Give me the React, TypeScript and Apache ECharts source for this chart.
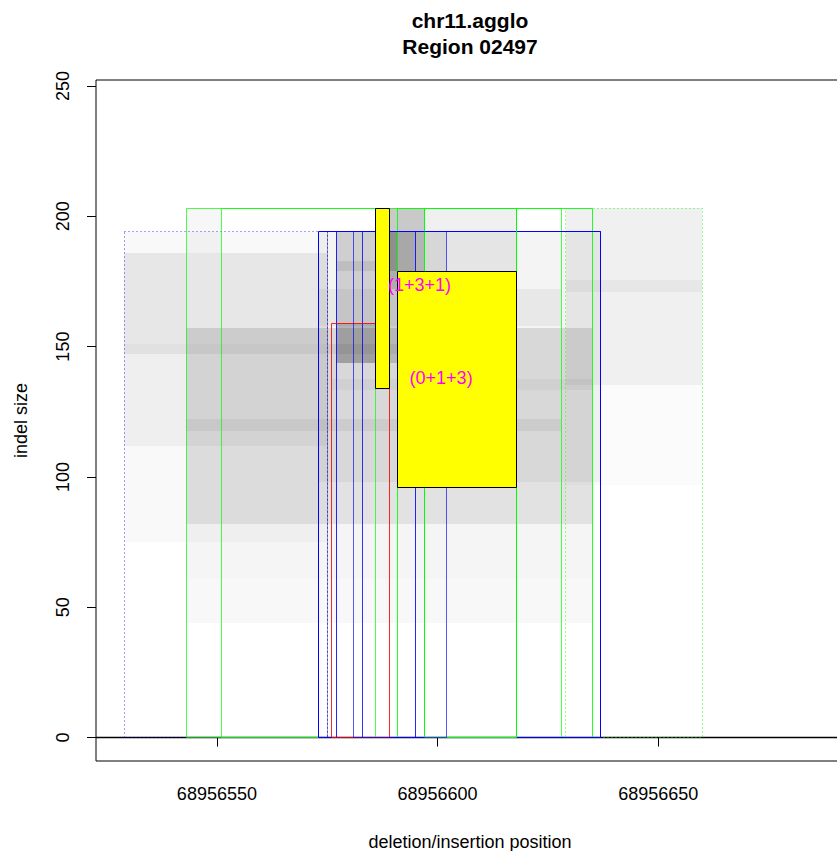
import React, { useEffect, useRef } from "react";
import * as echarts from "echarts";

const X_MIN = 68956522.6;
const X_MAX = 68956692.1;
const Y_MIN = -9.0;
const Y_MAX = 252.3;
const xTicks = [68956550, 68956600, 68956650];
const yTicks = [0, 50, 100, 150, 200, 250];
const titleLines = ["chr11.agglo", "Region 02497"];
const xName = "deletion/insertion position";
const yName = "indel size";

// translucent grey support areas: [x1, x2, y1, y2, darkness]
const shadeRects = [
  [68956529, 68956575, 75, 194, 0.024],
  [68956529, 68956575, 112, 186, 0.04],
  [68956529, 68956575, 151, 186, 0.032],
  [68956529, 68956591, 147, 151, 0.055],
  [68956543, 68956551, 186, 203, 0.032],
  [68956543, 68956635, 44, 82, 0.028],
  [68956543, 68956635, 61, 82, 0.012],
  [68956543, 68956635, 82, 157, 0.115],
  [68956543, 68956628, 117.5, 122.4, 0.05],
  [68956573, 68956637, 98, 194, 0.043],
  [68956573, 68956628, 158, 172, 0.047],
  [68956576, 68956635, 133.3, 137.5, 0.035],
  [68956586, 68956618, 179, 203, 0.06],
  [68956629, 68956660, 135.3, 203, 0.06],
  [68956629, 68956660, 97, 135.3, 0.016],
  [68956629, 68956660, 171, 175.6, 0.035],
  [68956577, 68956591, 143.7, 194, 0.15],
  [68956577, 68956589, 143.7, 159, 0.13],
  [68956589, 68956597, 172, 203, 0.16],
  [68956589, 68956595, 179, 194, 0.12],
  [68956595, 68956602, 179, 194, 0.06],
  [68956577, 68956586, 179, 183, 0.08],
];

// outlined boxes: [x1, x2, y1, y2, opacity], drawn in this order
const outlineBoxes = [
  [68956543, 68956628, 0, 203, 0.7],
  [68956551, 68956586, 0, 203, 0.7],
  [68956591, 68956635, 0, 203, 0.85],
  [68956573, 68956637, 0, 194, 1],
  [68956583, 68956637, 0, 194, 0.8],
  [68956597, 68956618, 0, 203, 1],
  [68956577, 68956595, 0, 194, 0.85],
  [68956576, 68956589, 0, 159, 0.85],
  [68956581, 68956602, 0, 194, 0.65],
];
const outlineColors = [
  "#00ff00",
  "#00ff00",
  "#00ff00",
  "#0000ff",
  "#0000ff",
  "#00ff00",
  "#0000ff",
  "#ff0000",
  "#0000ff",
];
const blueDotted = [[68956529, 68956575, 0, 194, 0.75]];
const navyDotted = [[68956575, 68956575, 0, 194, 0.9]];
const greenDotted = [[68956629, 68956660, 0, 203, 0.8]];
const yellowBoxes = [
  [68956586, 68956589, 134, 203],
  [68956591, 68956618, 96, 179],
];
const labelTexts = ["(1+3+1)", "(0+1+3)"];
const labelX = [68956595.9, 68956600.8];
const labelY = [173.6, 138.1];
const baseLine = [0];

const FONT = "'Liberation Sans', Arial, Helvetica, sans-serif";

const snap = (v: number) => Math.round(v - 0.5) + 0.5;

function boxSeries(data: number[][], color: string | string[], dashed: boolean, fill?: string) {
  return {
    type: "custom",
    silent: true,
    data,
    renderItem: (params: any, api: any) => {
      const p1 = api.coord([api.value(0), api.value(3)]);
      const p2 = api.coord([api.value(1), api.value(2)]);
      const x1 = snap(p1[0]);
      const y1 = snap(p1[1]);
      const x2 = snap(p2[0]);
      const y2 = snap(p2[1]);
      const op = fill ? 1 : api.value(4);
      const stroke = Array.isArray(color) ? color[params.dataIndex] : color;
      return {
        type: "rect",
        shape: { x: x1, y: y1, width: x2 - x1, height: y2 - y1 },
        style: {
          fill: fill || "none",
          stroke,
          lineWidth: 1,
          opacity: op,
          lineDash: dashed ? [1, 3] : null,
        },
      };
    },
  };
}

export default function App() {
  const ref = useRef<HTMLDivElement>(null);
  useEffect(() => {
    if (!ref.current) return;
    const chart = echarts.init(ref.current, null, { renderer: "svg" });
    const shadeSeries = {
      type: "custom",
      silent: true,
      data: shadeRects,
      renderItem: (params: any, api: any) => {
        const p1 = api.coord([api.value(0), api.value(3)]);
        const p2 = api.coord([api.value(1), api.value(2)]);
        const x1 = Math.round(p1[0]);
        const y1 = Math.round(p1[1]);
        const x2 = Math.round(p2[0]);
        const y2 = Math.round(p2[1]);
        return {
          type: "rect",
          shape: { x: x1, y: y1, width: x2 - x1, height: y2 - y1 },
          style: { fill: "#000", opacity: api.value(4) },
        };
      },
    };
    const baseSeries = {
      type: "custom",
      silent: true,
      data: baseLine,
      renderItem: (params: any, api: any) => {
        const a = api.coord([X_MIN, api.value(0)]);
        const b = api.coord([X_MAX, api.value(0)]);
        return {
          type: "line",
          shape: { x1: a[0], y1: snap(a[1]), x2: b[0], y2: snap(b[1]) },
          style: { stroke: "#000", lineWidth: 1.3 },
        };
      },
    };
    const textSeries = {
      type: "custom",
      silent: true,
      data: labelTexts.map((t, i) => [labelX[i], labelY[i]]),
      renderItem: (params: any, api: any) => {
        const p = api.coord([api.value(0), api.value(1)]);
        return {
          type: "text",
          x: p[0],
          y: p[1],
          style: {
            text: labelTexts[params.dataIndex],
            fill: "#ff00ff",
            fontSize: 18,
            fontFamily: FONT,
            textAlign: "center",
            textVerticalAlign: "middle",
          },
        };
      },
    };
    chart.setOption({
      animation: false,
      backgroundColor: "#fff",
      graphic: [
        {
          type: "text",
          x: 470,
          y: 20,
          style: { text: titleLines[0], fontSize: 21, fontWeight: "bold", fontFamily: FONT, fill: "#000", textAlign: "center", textVerticalAlign: "middle" },
        },
        {
          type: "text",
          x: 470,
          y: 46,
          style: { text: titleLines[1], fontSize: 21, fontWeight: "bold", fontFamily: FONT, fill: "#000", textAlign: "center", textVerticalAlign: "middle" },
        },
      ],
      grid: {
        left: 96,
        top: 80,
        width: 748,
        height: 681,
        show: true,
        borderColor: "#000",
        borderWidth: 1,
        backgroundColor: "transparent",
        containLabel: false,
        outerBoundsMode: "none",
      },
      xAxis: {
        type: "value",
        min: X_MIN,
        max: X_MAX,
        axisLine: { show: false },
        splitLine: { show: false },
        axisTick: { show: true, customValues: xTicks, length: 9, lineStyle: { color: "#000" } },
        axisLabel: {
          customValues: xTicks,
          margin: 24,
          fontSize: 18,
          fontFamily: FONT,
          color: "#000",
          formatter: (v: number) => String(v),
        },
        name: xName,
        nameLocation: "middle",
        nameGap: 72,
        nameTextStyle: { fontSize: 18, fontFamily: FONT, color: "#000" },
      },
      yAxis: {
        type: "value",
        min: Y_MIN,
        max: Y_MAX,
        axisLine: { show: false },
        splitLine: { show: false },
        axisTick: { show: true, customValues: yTicks, length: 9, lineStyle: { color: "#000" } },
        axisLabel: {
          customValues: yTicks,
          rotate: 90,
          margin: 24,
          fontSize: 18,
          fontFamily: FONT,
          color: "#000",
          formatter: (v: number) => String(v),
        },
        name: yName,
        nameLocation: "middle",
        nameRotate: 90,
        nameGap: 66,
        nameTextStyle: { fontSize: 18, fontFamily: FONT, color: "#000" },
      },
      series: [
        shadeSeries,
        baseSeries,
        boxSeries(blueDotted, "#0000ff", true),
        boxSeries(navyDotted, "#000080", true),
        boxSeries(greenDotted, "#00ff00", true),
        boxSeries(outlineBoxes, outlineColors, false),
        boxSeries(yellowBoxes, "#000000", false, "#ffff00"),
        textSeries,
      ],
    });
    return () => chart.dispose();
  }, []);
  return (
    <div
      ref={ref}
      style={{ position: "fixed", left: 0, top: 0, width: 837, height: 851, background: "#fff" }}
    />
  );
}
